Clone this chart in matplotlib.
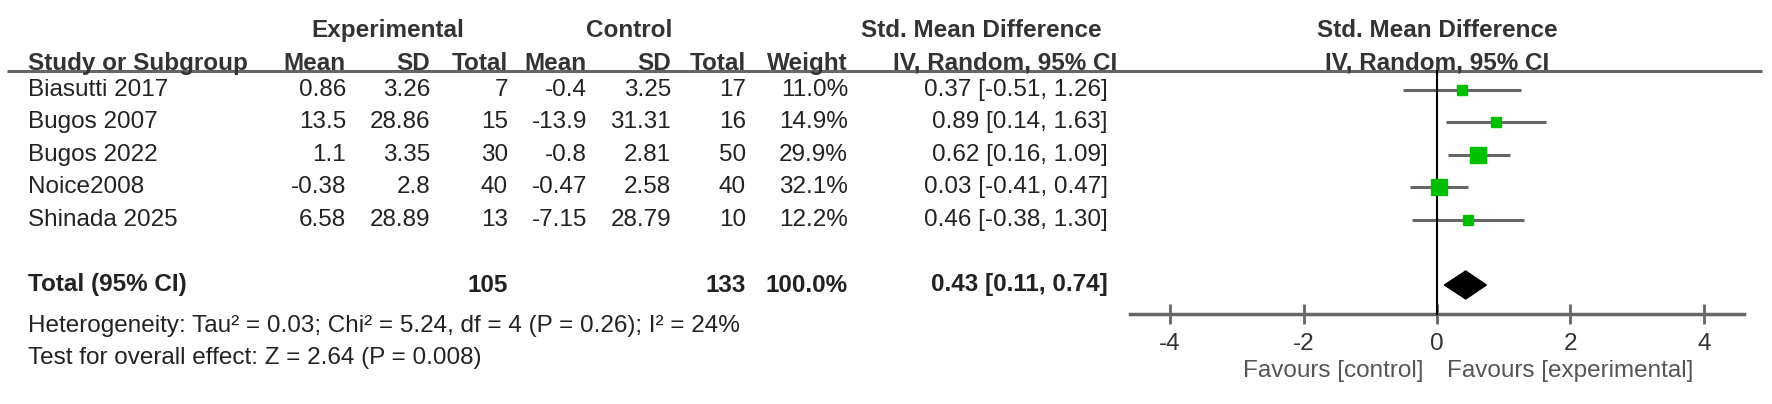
"""
Forest plot: Std. Mean Difference, IV, Random, 95% CI
"""

import matplotlib.pyplot as plt
from matplotlib.patches import Polygon


# =========================================================
# Data
# =========================================================

studies = ["Biasutti 2017", "Bugos 2007", "Bugos 2022", "Noice2008", "Shinada 2025"]

exp_mean = [0.86, 13.5, 1.1, -0.38, 6.58]
exp_sd = [3.26, 28.86, 3.35, 2.8, 28.89]
exp_n = [7, 15, 30, 40, 13]

ctl_mean = [-0.4, -13.9, -0.8, -0.47, -7.15]
ctl_sd = [3.25, 31.31, 2.81, 2.58, 28.79]
ctl_n = [17, 16, 50, 40, 10]

weight = [11.0, 14.9, 29.9, 32.1, 12.2]
smd = [0.37, 0.89, 0.62, 0.03, 0.46]
ci_lo = [-0.51, 0.14, 0.16, -0.41, -0.38]
ci_hi = [1.26, 1.63, 1.09, 0.47, 1.30]

total_exp_n = 105
total_ctl_n = 133
total_weight = 100.0
total_smd = 0.43
total_lo = 0.11
total_hi = 0.74

heterogeneity = "Heterogeneity: Tau² = 0.03; Chi² = 5.24, df = 4 (P = 0.26); I² = 24%"
overall_test = "Test for overall effect: Z = 2.64 (P = 0.008)"

x_ticks = [-4, -2, 0, 2, 4]


# =========================================================
# Layout (pixels on a 1772 x 404 canvas, rows in row units)
# =========================================================

W, H = 1772, 404
ROW0_PX = 90
ROW_PX = 32.5

FONT = ["Liberation Sans", "DejaVu Sans"]
FS = 17.5
TXT = "#222222"
HDR = "#333333"
LINE = "#666666"
GREEN = "#00c000"

# right edges of the numeric columns
COL_EXP_MEAN = 346
COL_EXP_SD = 430
COL_EXP_N = 508
COL_CTL_MEAN = 587
COL_CTL_SD = 671
COL_CTL_N = 746
COL_WEIGHT = 848
COL_CI = 1108
COL_NAME = 28

FOREST_LEFT = 1130
FOREST_RIGHT = 1744
X_LIM = 4.6


def row_of(px):
    return (px - ROW0_PX) / ROW_PX


Y_TOP = row_of(0)
Y_BOTTOM = row_of(H)


def fmt(v):
    return str(v)


# =========================================================
# Drawing
# =========================================================

def draw_table(ax):
    t = dict(fontsize=FS, family=FONT)

    # group headers
    hb = dict(t, fontweight="bold", color=HDR)
    y1 = row_of(31)
    y2 = row_of(70)
    ax.text(388, y1, "Experimental", ha="center", va="center", **hb)
    ax.text(629, y1, "Control", ha="center", va="center", **hb)
    ax.text(981, y1, "Std. Mean Difference", ha="center", va="center", **hb)

    ax.text(COL_NAME, y2, "Study or Subgroup", ha="left", va="baseline", **hb)
    for x, lab in [(COL_EXP_MEAN, "Mean"), (COL_EXP_SD, "SD"), (COL_EXP_N, "Total"),
                   (COL_CTL_MEAN, "Mean"), (COL_CTL_SD, "SD"), (COL_CTL_N, "Total"),
                   (COL_WEIGHT, "Weight")]:
        ax.text(x, y2, lab, ha="right", va="baseline", **hb)
    ax.text(1005, y2, "IV, Random, 95% CI", ha="center", va="baseline", **hb)

    # underline under headers
    ax.plot([7, 1762], [row_of(71)] * 2, color=LINE, lw=2.2,
            solid_capstyle="butt", clip_on=False)

    # study rows
    tr = dict(t, color=TXT, va="center")
    for i, name in enumerate(studies):
        ax.text(COL_NAME, i, name, ha="left", **tr)
        ax.text(COL_EXP_MEAN, i, fmt(exp_mean[i]), ha="right", **tr)
        ax.text(COL_EXP_SD, i, fmt(exp_sd[i]), ha="right", **tr)
        ax.text(COL_EXP_N, i, fmt(exp_n[i]), ha="right", **tr)
        ax.text(COL_CTL_MEAN, i, fmt(ctl_mean[i]), ha="right", **tr)
        ax.text(COL_CTL_SD, i, fmt(ctl_sd[i]), ha="right", **tr)
        ax.text(COL_CTL_N, i, fmt(ctl_n[i]), ha="right", **tr)
        ax.text(COL_WEIGHT, i, f"{weight[i]:.1f}%", ha="right", **tr)
        ax.text(COL_CI, i, f"{smd[i]:.2f} [{ci_lo[i]:.2f}, {ci_hi[i]:.2f}]",
                ha="right", **tr)

    # total row
    yt = len(studies) + 1
    tb = dict(t, fontweight="bold", color=TXT, va="center")
    ax.text(COL_NAME, yt, "Total (95% CI)", ha="left", **tb)
    ax.text(COL_EXP_N, yt, fmt(total_exp_n), ha="right", **tb)
    ax.text(COL_CTL_N, yt, fmt(total_ctl_n), ha="right", **tb)
    ax.text(COL_WEIGHT, yt, f"{total_weight:.1f}%", ha="right", **tb)
    ax.text(COL_CI, yt, f"{total_smd:.2f} [{total_lo:.2f}, {total_hi:.2f}]",
            ha="right", **tb)

    ax.text(COL_NAME, row_of(326), heterogeneity, ha="left", **tr)
    ax.text(COL_NAME, row_of(358), overall_test, ha="left", **tr)


def draw_forest(ax):
    ys = list(range(len(studies)))

    # confidence intervals
    ax.hlines(ys, ci_lo, ci_hi, color=LINE, lw=2.2)

    # weighted squares
    for y, x, w in zip(ys, smd, weight):
        ax.plot(x, y, marker="s", ms=11.5 * (w / 32.1) ** 0.5,
                color=GREEN, mec=GREEN, zorder=4)

    # pooled diamond
    yt = len(studies) + 1
    h = 0.43
    ax.add_patch(Polygon([(total_lo, yt), (total_smd, yt - h),
                          (total_hi, yt), (total_smd, yt + h)],
                         closed=True, color="black", zorder=4))

    # line of no effect
    y_axis = row_of(314)
    ax.plot([0, 0], [row_of(71), y_axis], color="black", lw=1.5, zorder=3)

    # x axis
    for side in ["top", "left", "right"]:
        ax.spines[side].set_visible(False)
    ax.spines["bottom"].set_position(("data", y_axis))
    ax.spines["bottom"].set_color(LINE)
    ax.spines["bottom"].set_linewidth(2.5)
    ax.set_xticks(x_ticks)
    ax.set_xticklabels([str(v) for v in x_ticks])
    ax.tick_params(axis="x", direction="inout", length=14, width=2,
                   color=LINE, labelcolor=HDR, labelsize=FS, pad=7)
    for lab in ax.get_xticklabels():
        lab.set_family(FONT)
    ax.set_yticks([])

    yf = row_of(371)
    ax.text(-0.2, yf, "Favours [control]", ha="right", va="center",
            fontsize=FS, family=FONT, color="#555555")
    ax.text(0.15, yf, "Favours [experimental]", ha="left", va="center",
            fontsize=FS, family=FONT, color="#555555")

    # header over the plot
    ax.text(0, row_of(31), "Std. Mean Difference", ha="center", va="center",
            fontsize=FS, family=FONT, fontweight="bold", color=HDR)
    ax.text(0, row_of(70), "IV, Random, 95% CI", ha="center", va="baseline",
            fontsize=FS, family=FONT, fontweight="bold", color=HDR)


# =========================================================
# Main
# =========================================================

def main():
    fig = plt.figure(figsize=(W / 100, H / 100), dpi=100)
    fig.patch.set_facecolor("white")

    ax_tab = fig.add_axes([0, 0, 1, 1])
    ax_tab.set_xlim(0, W)
    ax_tab.set_ylim(Y_BOTTOM, Y_TOP)
    ax_tab.axis("off")

    ax_for = fig.add_axes([FOREST_LEFT / W, 0, (FOREST_RIGHT - FOREST_LEFT) / W, 1])
    ax_for.set_xlim(-X_LIM, X_LIM)
    ax_for.set_ylim(Y_BOTTOM, Y_TOP)
    ax_for.patch.set_alpha(0)

    draw_table(ax_tab)
    draw_forest(ax_for)

    fig.savefig("out.png", dpi=100)
    plt.close(fig)


if __name__ == "__main__":
    main()
